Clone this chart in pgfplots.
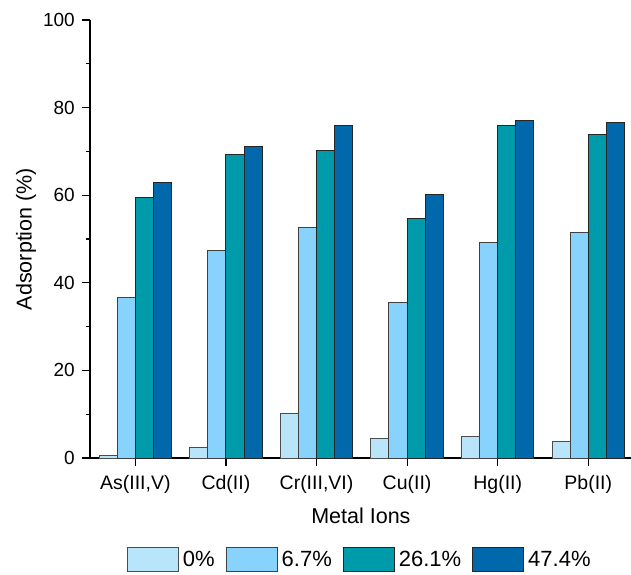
\documentclass[border=0pt]{standalone}
\usepackage{pgfplots}
\pgfplotsset{compat=1.18}
\usepackage{fontspec}
\setmainfont{Liberation Sans}
\definecolor{c0}{RGB}{185,229,251}
\definecolor{c1}{RGB}{135,211,254}
\definecolor{c2}{RGB}{0,155,171}
\definecolor{c3}{RGB}{0,104,171}
\begin{document}
\begin{tikzpicture}
\begin{axis}[
  at={(0,0)}, anchor=south west,
  scale only axis,
  width=541.8bp, height=438bp,
  xmin=-0.5, xmax=5.48,
  ymin=0, ymax=100,
  axis x line*=bottom, axis y line*=left,
  axis line style={line width=1.4bp, black},
  xtick={0,1,2,3,4,5},
  xticklabels={{As(III,V)},{Cd(II)},{Cr(III,VI)},{Cu(II)},{Hg(II)},{Pb(II)}},
  ytick={0,20,40,60,80,100},
  minor ytick={10,30,50,70,90},
  tick align=outside,
  major tick length=8bp, minor tick length=4bp,
  tick style={line width=1.2bp, black},
  /pgf/number format/assume math mode=true,
  yticklabel style={font=\fontsize{19bp}{22bp}\selectfont, anchor=east, inner sep=0pt, xshift=-7bp},
  xticklabel style={font=\fontsize{19.5bp}{22bp}\selectfont, anchor=north, inner sep=0pt, yshift=-9bp},
  xlabel={Metal Ions}, ylabel={Adsorption (\%)},
  every axis x label/.style={at={(axis description cs:0.5,-0.1324)}, anchor=center, font=\fontsize{21.5bp}{24bp}\selectfont},
  every axis y label/.style={at={(axis description cs:-0.118,0.5)}, anchor=center, rotate=90, font=\fontsize{21.5bp}{24bp}\selectfont},
  legend style={at={(0.4997,-0.232)}, anchor=center, draw=none, fill=none, legend columns=4,
    font=\fontsize{22bp}{24bp}\selectfont,
    /tikz/every even column/.append style={column sep=7bp},
    nodes={inner sep=4bp}},
  legend image code/.code={\draw[#1] (0bp,-11.8bp) rectangle (51bp,11.8bp);},
  bar width=0.2,
]
\addplot[ybar, bar shift=-0.3, fill=c0, draw=black!70, line width=1bp] coordinates {(0,0.5) (1,2.4) (2,10.1) (3,4.4) (4,4.8) (5,3.7)};
\addplot[ybar, bar shift=-0.1, fill=c1, draw=black!75, line width=1bp] coordinates {(0,36.6) (1,47.3) (2,52.7) (3,35.4) (4,49.3) (5,51.4)};
\addplot[ybar, bar shift=0.1, fill=c2, draw=black!85, line width=1bp] coordinates {(0,59.4) (1,69.3) (2,70.3) (3,54.6) (4,75.8) (5,73.8)};
\addplot[ybar, bar shift=0.3, fill=c3, draw=black!85, line width=1bp] coordinates {(0,62.9) (1,71.2) (2,76.0) (3,60.2) (4,77.0) (5,76.5)};
\legend{0\%,6.7\%,26.1\%,47.4\%}
\end{axis}
\pgfresetboundingbox
\path (-90bp,-117bp) rectangle (541bp,458bp);
\end{tikzpicture}
\end{document}
